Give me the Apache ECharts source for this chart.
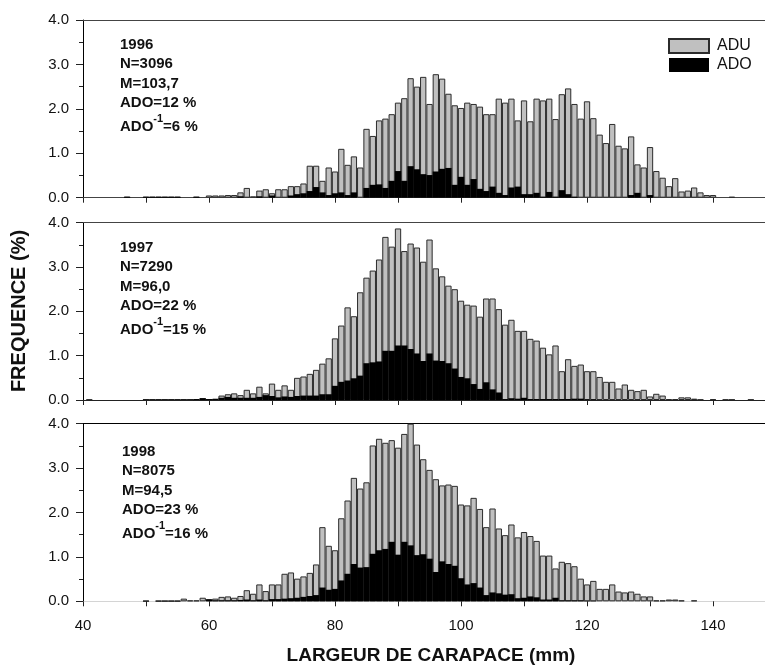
<!DOCTYPE html>
<html>
<head>
<meta charset="utf-8">
<script src="https://cdn.jsdelivr.net/npm/echarts@6/dist/echarts.min.js"></script>
<style>
  html, body { margin: 0; padding: 0; background: #ffffff; }
  #chart { width: 765px; height: 671px; }
</style>
</head>
<body>
<div id="chart"></div>
<script>
// Carapace width classes (mm), one bar per millimetre
const lengthsMm = [
  41, 42, 43, 44, 45, 46, 47, 48, 49, 50,
  51, 52, 53, 54, 55, 56, 57, 58, 59, 60,
  61, 62, 63, 64, 65, 66, 67, 68, 69, 70,
  71, 72, 73, 74, 75, 76, 77, 78, 79, 80,
  81, 82, 83, 84, 85, 86, 87, 88, 89, 90,
  91, 92, 93, 94, 95, 96, 97, 98, 99, 100,
  101, 102, 103, 104, 105, 106, 107, 108, 109, 110,
  111, 112, 113, 114, 115, 116, 117, 118, 119, 120,
  121, 122, 123, 124, 125, 126, 127, 128, 129, 130,
  131, 132, 133, 134, 135, 136, 137, 138, 139, 140,
  141, 142, 143, 144, 145, 146, 147
];

// 1996 — total frequency (%) and ADO part (%)
const total1996 = [
  0, 0, 0, 0, 0, 0, 0.02, 0, 0, 0.02,
  0.02, 0.02, 0.02, 0.02, 0.02, 0, 0, 0.02, 0, 0.05,
  0.05, 0.05, 0.06, 0.06, 0.12, 0.22, 0.03, 0.16, 0.19, 0.10,
  0.19, 0.19, 0.26, 0.26, 0.32, 0.72, 0.72, 0.38, 0.68, 0.59,
  1.10, 0.74, 0.93, 0.68, 1.55, 1.39, 1.74, 1.78, 1.88, 2.14,
  2.24, 2.69, 2.50, 2.72, 2.11, 2.78, 2.68, 2.34, 2.08, 2.02,
  2.14, 2.11, 2.05, 1.88, 1.88, 2.23, 2.14, 2.23, 1.74, 2.19,
  1.72, 2.23, 2.19, 2.23, 1.77, 2.33, 2.46, 2.11, 1.78, 2.17,
  1.79, 1.42, 1.23, 1.66, 1.17, 1.11, 1.38, 0.75, 0.68, 1.14,
  0.60, 0.45, 0.26, 0.44, 0.14, 0.16, 0.23, 0.12, 0.06, 0.06,
  0, 0, 0.02, 0, 0, 0, 0
];
const ado1996 = [
  0, 0, 0, 0, 0, 0, 0.02, 0, 0, 0.02,
  0.02, 0.02, 0.02, 0.02, 0.02, 0, 0, 0.02, 0, 0,
  0, 0, 0, 0, 0.03, 0, 0, 0.03, 0, 0.05,
  0, 0, 0.05, 0.08, 0.10, 0.15, 0.24, 0.12, 0.06, 0.10,
  0.12, 0.06, 0.12, 0, 0.22, 0.29, 0.30, 0.22, 0.38, 0.60,
  0.38, 0.71, 0.64, 0.53, 0.51, 0.59, 0.65, 0.67, 0.29, 0.47,
  0.29, 0.42, 0.20, 0.15, 0.25, 0.11, 0.06, 0.23, 0.25, 0.08,
  0.08, 0.11, 0.02, 0.13, 0.02, 0.17, 0.08, 0.02, 0, 0,
  0, 0, 0, 0, 0, 0, 0.06, 0.11, 0, 0.06,
  0, 0, 0, 0, 0, 0, 0, 0, 0, 0,
  0, 0, 0, 0, 0, 0, 0
];

// 1997
const total1997 = [
  0.01, 0, 0, 0, 0, 0, 0, 0, 0, 0.01,
  0.01, 0.01, 0.01, 0.01, 0.01, 0.01, 0.01, 0.02, 0.04, 0.02,
  0.03, 0.10, 0.13, 0.15, 0.11, 0.23, 0.15, 0.30, 0.15, 0.37,
  0.23, 0.33, 0.23, 0.50, 0.53, 0.59, 0.68, 0.82, 0.94, 1.39,
  1.68, 2.09, 1.89, 2.43, 2.76, 2.92, 3.17, 3.68, 3.46, 3.87,
  3.36, 3.53, 3.44, 3.12, 3.62, 2.97, 2.79, 2.58, 2.50, 2.24,
  2.15, 2.13, 1.88, 2.29, 2.29, 2.05, 1.70, 1.81, 1.56, 1.56,
  1.38, 1.34, 1.18, 1.03, 1.23, 0.65, 0.92, 0.77, 0.80, 0.65,
  0.65, 0.52, 0.41, 0.41, 0.26, 0.35, 0.23, 0.20, 0.23, 0.08,
  0.14, 0.10, 0.02, 0.02, 0.06, 0.06, 0.03, 0.01, 0, 0.02,
  0, 0.01, 0.01, 0, 0, 0.01, 0
];
const ado1997 = [
  0, 0, 0, 0, 0, 0, 0, 0, 0, 0.01,
  0.01, 0.01, 0.01, 0.01, 0.01, 0.01, 0.01, 0.02, 0.04, 0.02,
  0.02, 0.05, 0.07, 0.05, 0.05, 0.05, 0.05, 0.07, 0.11, 0.09,
  0.06, 0.08, 0.07, 0.09, 0.10, 0.10, 0.10, 0.13, 0.13, 0.32,
  0.41, 0.44, 0.49, 0.55, 0.83, 0.85, 0.87, 1.11, 1.11, 1.23,
  1.23, 1.15, 1.05, 0.88, 1.05, 0.89, 0.88, 0.83, 0.71, 0.52,
  0.49, 0.36, 0.25, 0.40, 0.24, 0.17, 0.02, 0.04, 0.03, 0.05,
  0.02, 0.02, 0.02, 0.02, 0.02, 0.02, 0.02, 0.03, 0.03, 0.01,
  0.01, 0, 0, 0, 0, 0, 0, 0, 0, 0,
  0, 0, 0, 0, 0, 0, 0, 0, 0, 0,
  0, 0, 0, 0, 0, 0, 0
];

// 1998
const total1998 = [
  0, 0, 0, 0, 0, 0, 0, 0, 0, 0.01,
  0, 0.01, 0.01, 0.01, 0.01, 0.06, 0.02, 0.02, 0.08, 0.05,
  0.06, 0.10, 0.11, 0.08, 0.12, 0.25, 0.17, 0.38, 0.23, 0.38,
  0.38, 0.62, 0.65, 0.51, 0.56, 0.64, 0.83, 1.67, 1.25, 1.15,
  1.87, 2.27, 2.78, 2.54, 2.68, 3.51, 3.66, 3.57, 3.63, 3.46,
  3.77, 4.00, 3.53, 3.20, 2.96, 2.75, 2.61, 2.63, 2.60, 2.18,
  2.16, 2.33, 2.08, 1.67, 2.09, 1.64, 1.49, 1.73, 1.44, 1.56,
  1.47, 1.36, 1.03, 1.03, 0.74, 0.89, 0.86, 0.79, 0.51, 0.38,
  0.46, 0.28, 0.28, 0.38, 0.22, 0.20, 0.22, 0.17, 0.11, 0.11,
  0.02, 0.02, 0.04, 0.04, 0.02, 0, 0.02, 0, 0, 0,
  0, 0, 0, 0, 0, 0, 0
];
const ado1998 = [
  0, 0, 0, 0, 0, 0, 0, 0, 0, 0.01,
  0, 0.01, 0.01, 0.01, 0.01, 0, 0, 0, 0, 0.04,
  0.02, 0.02, 0.02, 0.02, 0.03, 0.04, 0.02, 0.04, 0.02, 0.05,
  0.05, 0.06, 0.07, 0.08, 0.10, 0.12, 0.14, 0.31, 0.26, 0.28,
  0.47, 0.62, 0.84, 0.76, 0.77, 1.07, 1.15, 1.18, 1.34, 1.05,
  1.34, 1.26, 1.04, 1.06, 0.96, 0.66, 0.90, 0.84, 0.80, 0.52,
  0.38, 0.41, 0.31, 0.14, 0.20, 0.18, 0.15, 0.16, 0.07, 0.08,
  0.11, 0.09, 0.04, 0.04, 0.08, 0.02, 0.02, 0.02, 0.02, 0.01,
  0.01, 0, 0, 0, 0, 0, 0, 0, 0, 0,
  0, 0, 0, 0, 0, 0, 0, 0, 0, 0,
  0, 0, 0, 0, 0, 0, 0
];

// Axis ticks and labels
const xTickValues = [40, 50, 60, 70, 80, 90, 100, 110, 120, 130, 140];
const xLabelValues = [40, 60, 80, 100, 120, 140];

// Panel annotations
const yearLabels = ['1996', '1997', '1998'];
const countLabels = ['N=3096', 'N=7290', 'N=8075'];
const meanLabels = ['M=103,7', 'M=96,0', 'M=94,5'];
const adoLabels = ['ADO=12 %', 'ADO=22 %', 'ADO=23 %'];
const adoPrevLabels = ['=6 %', '=15 %', '=16 %'];

const totals = [total1996, total1997, total1998];
const ados = [ado1996, ado1997, ado1998];

const FONT = '"Liberation Sans", Arial, Helvetica, sans-serif';
const panels = [
  { top: 20, height: 177.7, textY: 45, textX: 120, topLine: '#444', baseLine: '#444' },
  { top: 222.7, height: 177.3, textY: 248, textX: 120, topLine: '#444', baseLine: '#222' },
  { top: 423.7, height: 177.6, textY: 452, textX: 122, topLine: '#000', baseLine: '#d4d4d4' }
];
const X_MIN = 40, X_MAX = 148.25;

const toPairs = vals => lengthsMm.map((x, i) => [x, vals[i] > 0 ? vals[i] : '-']);

const grids = [], xAxes = [], yAxes = [], series = [], graphics = [];

panels.forEach((p, i) => {
  const last = i === panels.length - 1;
  grids.push({ left: 83, width: 682, top: p.top, height: p.height });

  // bottom axis of the panel
  xAxes.push({
    type: 'value', gridIndex: i, position: 'bottom', min: X_MIN, max: X_MAX,
    axisLine: { show: true, lineStyle: { color: p.baseLine, width: 1 } },
    axisTick: { show: true, inside: false, length: 5, customValues: xTickValues,
      lineStyle: { color: '#222', width: 1 } },
    axisLabel: { show: last, customValues: xLabelValues, margin: 17,
      fontFamily: FONT, fontSize: 15, color: '#111' },
    splitLine: { show: false }
  });
  // top frame line of the panel
  xAxes.push({
    type: 'value', gridIndex: i, position: 'top', min: X_MIN, max: X_MAX,
    axisLine: { show: true, lineStyle: { color: p.topLine, width: 1 } },
    axisTick: { show: false }, axisLabel: { show: false }, splitLine: { show: false }
  });

  yAxes.push({
    type: 'value', gridIndex: i, min: 0, max: 4, interval: 1,
    axisLine: { show: true, lineStyle: { color: '#000', width: 1 } },
    axisTick: { show: true, length: 7, lineStyle: { color: '#222' } },
    minorTick: { show: true, splitNumber: 2, length: 4, lineStyle: { color: '#222' } },
    axisLabel: { formatter: v => v.toFixed(1), margin: 14, fontFamily: FONT,
      fontSize: 15, color: '#111' },
    splitLine: { show: false }
  });

  series.push({
    type: 'bar', name: 'ADU', xAxisIndex: 2 * i, yAxisIndex: i,
    data: toPairs(totals[i]), barWidth: '100%', barGap: '-100%',
    itemStyle: { color: '#c0c0c0', borderColor: '#2b2b2b', borderWidth: 1 },
    silent: true, z: 2
  });
  series.push({
    type: 'bar', name: 'ADO', xAxisIndex: 2 * i, yAxisIndex: i,
    data: toPairs(ados[i]), barWidth: '100%', barGap: '-100%',
    itemStyle: { color: '#000', borderColor: '#000', borderWidth: 0 },
    silent: true, z: 3
  });

  // annotation block
  const bold = 'bold 15px ' + FONT;
  const lines = [yearLabels[i], countLabels[i], meanLabels[i], adoLabels[i]];
  const offsets = [0, 19, 38.5, 58];
  lines.forEach((t, j) => {
    graphics.push({
      type: 'text', x: p.textX, y: p.textY + offsets[j], silent: true,
      style: { text: t, font: bold, fill: '#111', align: 'left', verticalAlign: 'middle' }
    });
  });
  graphics.push({
    type: 'text', x: p.textX, y: p.textY + 81, silent: true,
    style: {
      text: '{b|ADO}{s|-1}{b|' + adoPrevLabels[i] + '}',
      align: 'left', verticalAlign: 'middle',
      rich: {
        b: { font: bold, fill: '#111', lineHeight: 16, verticalAlign: 'bottom' },
        s: { font: 'bold 11px ' + FONT, fill: '#111', lineHeight: 10,
             padding: [0, 0, 10, 0], verticalAlign: 'bottom' }
      }
    }
  });
});

// axis titles
graphics.push({
  type: 'text', x: 431, y: 656, silent: true,
  style: { text: 'LARGEUR DE CARAPACE (mm)', font: 'bold 19px ' + FONT, fill: '#111',
    align: 'center', verticalAlign: 'middle' }
});
graphics.push({
  type: 'text', x: 19, y: 311, rotation: Math.PI / 2, silent: true,
  style: { text: 'FREQUENCE (%)', font: 'bold 20px ' + FONT, fill: '#111',
    align: 'center', verticalAlign: 'middle' }
});

const chart = echarts.init(document.getElementById('chart'), null, { renderer: 'canvas' });
chart.setOption({
  animation: false,
  backgroundColor: '#ffffff',
  grid: grids,
  xAxis: xAxes,
  yAxis: yAxes,
  legend: {
    data: [{ name: 'ADU', icon: 'rect' }, { name: 'ADO', icon: 'rect' }],
    orient: 'vertical', left: 663, top: 33,
    itemWidth: 40, itemHeight: 14, itemGap: 3, selectedMode: false,
    textStyle: { fontFamily: FONT, fontSize: 16, color: '#111', padding: [0, 0, 0, 3] }
  },
  series: series,
  graphic: graphics
});
</script>
</body>
</html>
